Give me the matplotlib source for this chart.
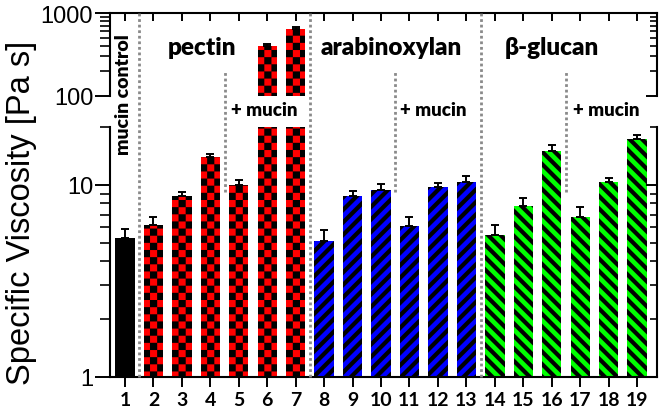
import numpy as np
import matplotlib
matplotlib.use("Agg")
import matplotlib.pyplot as plt
import matplotlib.transforms as mtrans
from matplotlib import hatch as mhatch
from matplotlib.path import Path
from matplotlib.lines import Line2D
from matplotlib.ticker import FixedLocator, LogLocator, NullFormatter

# ---------------- data ----------------
samples = list(range(1, 20))
viscosity = [5.3, 6.2, 8.7, 13.9, 10.0, 400, 650,
             5.1, 8.7, 9.4, 6.1, 9.7, 10.3,
             5.5, 7.8, 15.0, 6.8, 10.3, 17.3]
sd = [0.6, 0.6, 0.5, 0.6, 0.6, 19, 25,
      0.7, 0.6, 0.7, 0.7, 0.5, 0.8,
      0.7, 0.7, 1.1, 0.9, 0.6, 0.9]
bar_colors = ["black"] + ["#ff0000"] * 6 + ["#0000ff"] * 6 + ["#00ff00"] * 6
bar_hatches = [""] + ["o"] * 6 + ["/"] * 6 + ["\\"] * 6

group_names = ["pectin", "arabinoxylan", "\u03b2-glucan"]
group_label_x = [3.7, 10.35, 16.0]
mucin_label_x = [5.9, 11.85, 17.9]
group_dividers = [1.5, 7.5, 13.5]
mucin_dividers = [4.5, 10.5, 16.5]


# ---------------- custom fill patterns (checker / thick stripes) ----------------
class BarPattern(mhatch.HatchPatternBase):
    def __init__(self, hatch, density):
        self.polys = []
        if "o" in hatch:
            n = 14
            for i in range(n):
                for j in range(n):
                    if (i + j) % 2 == 0:
                        x0, y0 = i / n, j / n
                        self.polys.append([(x0, y0), (x0 + 1 / n, y0),
                                           (x0 + 1 / n, y0 + 1 / n), (x0, y0 + 1 / n)])
        elif "/" in hatch or "\\" in hatch:
            n = 8
            w = 0.47 / n
            for k in range(-n, n + 1):
                x0 = k / n
                if "/" in hatch:
                    p = [(x0, 0), (x0 + w, 0), (x0 + w + 1, 1), (x0 + 1, 1)]
                else:
                    p = [(x0, 1), (x0 + w, 1), (x0 + w + 1, 0), (x0 + 1, 0)]
                self.polys.append(p)
        self.num_vertices = 5 * len(self.polys)

    def set_vertices_and_codes(self, vertices, codes):
        for i, p in enumerate(self.polys):
            vertices[5 * i:5 * i + 4] = p
            vertices[5 * i + 4] = p[0]
            codes[5 * i] = Path.MOVETO
            codes[5 * i + 1:5 * i + 4] = Path.LINETO
            codes[5 * i + 4] = Path.CLOSEPOLY


mhatch._hatch_types = [BarPattern]
plt.rcParams["hatch.linewidth"] = 0.05

label_font = ["Lato", "DejaVu Sans"]
num_font = ["Liberation Sans", "DejaVu Sans"]

fig = plt.figure(figsize=(6.66, 4.14), dpi=100)
ax_lo = fig.add_axes([0.165, 0.087, 0.8215, 0.604])
ax_hi = fig.add_axes([0.165, 0.766, 0.8215, 0.200])

x = np.array(samples)
err = [np.zeros(len(sd)), sd]

for ax, ylim, majors, majlabels in [(ax_lo, (1, 20), [1, 10], ["1", "10"]),
                                    (ax_hi, (100, 1000), [100, 1000], ["100", "1000"])]:
    ax.set_yscale("log")
    bars = ax.bar(x, viscosity, width=0.68, color=bar_colors,
                  edgecolor="black", linewidth=0)
    for b, h in zip(bars, bar_hatches):
        b.set_hatch(h)
    ax.errorbar(x, viscosity, yerr=err, fmt="none", ecolor="black",
                elinewidth=1.4, capsize=3, capthick=1.4)
    ax.set_xlim(0.47, 19.7)
    ax.set_ylim(*ylim)
    ax.yaxis.set_major_locator(FixedLocator(majors))
    ax.set_yticklabels(majlabels, fontsize=17, family=num_font)
    ax.yaxis.set_minor_locator(LogLocator(base=10, subs=np.arange(2, 10)))
    ax.yaxis.set_minor_formatter(NullFormatter())
    ax.tick_params(axis="y", which="major", direction="out", length=11, width=1.4, pad=1)
    ax.tick_params(axis="y", which="minor", direction="out", length=7, width=1.2)
    for s in ax.spines.values():
        s.set_linewidth(1.5)

    # inward ticks on the right side
    axr = ax.twinx()
    axr.set_yscale("log")
    axr.set_ylim(*ylim)
    axr.yaxis.set_major_locator(FixedLocator(majors))
    axr.yaxis.set_minor_locator(LogLocator(base=10, subs=np.arange(2, 10)))
    axr.yaxis.set_major_formatter(NullFormatter())
    axr.yaxis.set_minor_formatter(NullFormatter())
    axr.tick_params(axis="y", which="major", direction="in", length=8, width=1.4)
    axr.tick_params(axis="y", which="minor", direction="in", length=5, width=1.2)
    for s in axr.spines.values():
        s.set_visible(False)

# lower panel: numbered x axis
ax_lo.spines["top"].set_visible(False)
ax_lo.set_xticks(x)
ax_lo.set_xticklabels([str(s) for s in samples], fontsize=14,
                      fontweight="bold", family=label_font)
ax_lo.tick_params(axis="x", direction="out", length=7, width=1.4, pad=3)

# upper panel: ticks along the top
ax_hi.spines["bottom"].set_visible(False)
ax_hi.set_xticks(x)
ax_hi.tick_params(axis="x", bottom=False, top=True, direction="in",
                  length=6, width=1.4, labelbottom=False, labeltop=False)

# dotted dividers spanning both panels
tr = mtrans.blended_transform_factory(ax_lo.transData, fig.transFigure)
for xd in group_dividers:
    fig.add_artist(Line2D([xd, xd], [0.087, 0.966], transform=tr, color="#8a8a8a",
                          lw=2, linestyle=(0, (1, 1))))
for xd in mucin_dividers:
    fig.add_artist(Line2D([xd, xd], [0.534, 0.826], transform=tr, color="#8a8a8a",
                          lw=2, linestyle=(0, (1, 1))))

# labels
for name, gx in zip(group_names, group_label_x):
    fig.text(gx, 0.884, name, transform=tr, ha="center", va="center",
             fontsize=17.5, fontweight="heavy", family=label_font)
for mx in mucin_label_x:
    fig.text(mx, 0.734, "+ mucin", transform=tr, ha="center", va="center",
             fontsize=13.5, fontweight="heavy", family=label_font)
fig.text(0.96, 0.771, "mucin control", transform=tr, ha="center", va="center",
         rotation=90, fontsize=14, fontweight="heavy", family=label_font)

fig.text(0.033, 0.486, "Specific Viscosity [Pa s]", rotation=90, ha="center",
         va="center", fontsize=23.5, family=num_font)

fig.savefig("out.png", dpi=100)
